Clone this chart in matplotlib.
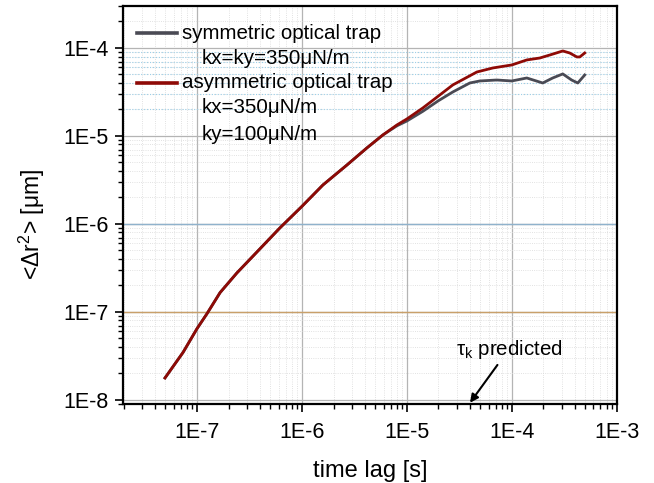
import numpy as np
import matplotlib
matplotlib.use("Agg")
import matplotlib.pyplot as plt
from matplotlib.ticker import LogLocator, FuncFormatter, NullFormatter

plt.rcParams["font.family"] = ["Liberation Sans", "DejaVu Sans"]

# Data (log10 of time lag and of <dr^2>)
log_t_common = [-7.305, -7.133, -7.0, -6.905, -6.78, -6.62, -6.43, -6.21, -6.0,
                -5.8, -5.571, -5.381, -5.229]
log_r_common = [-7.75, -7.46, -7.19, -7.02, -6.78, -6.557, -6.32, -6.045, -5.80,
                -5.557, -5.33, -5.136, -4.989]

log_t_sym = [-5.095, -5.0, -4.848, -4.70, -4.562, -4.4, -4.305, -4.143, -4.0,
             -3.857, -3.705, -3.61, -3.514, -3.43, -3.371, -3.305]
log_r_sym = [-4.885, -4.83, -4.72, -4.60, -4.50, -4.398, -4.375, -4.364, -4.375,
             -4.341, -4.398, -4.341, -4.295, -4.364, -4.398, -4.307]

log_t_asym = [-5.095, -5.0, -4.848, -4.686, -4.562, -4.333, -4.18, -4.0, -3.857,
              -3.733, -3.638, -3.514, -3.448, -3.38, -3.352, -3.305]
log_r_asym = [-4.875, -4.807, -4.682, -4.534, -4.42, -4.273, -4.227, -4.193, -4.136,
              -4.114, -4.08, -4.034, -4.057, -4.102, -4.102, -4.057]

x_ticks = [1e-7, 1e-6, 1e-5, 1e-4, 1e-3]
y_ticks = [1e-8, 1e-7, 1e-6, 1e-5, 1e-4]

tau_k = 4e-5  # predicted corner time

t_sym = 10 ** np.array(log_t_common + log_t_sym)
r_sym = 10 ** np.array(log_r_common + log_r_sym)
t_asym = 10 ** np.array(log_t_common + log_t_asym)
r_asym = 10 ** np.array(log_r_common + log_r_asym)

gray = "#4a4a54"
red = "#8e0a06"

fig = plt.figure(figsize=(6.54, 4.83), dpi=100)
ax = fig.add_axes([0.188, 0.1636, 0.755, 0.824])

ax.set_xscale("log")
ax.set_yscale("log")
ax.set_xlim(1.97e-8, 1e-3)
ax.set_ylim(9e-9, 3e-4)

# grid
ax.set_xticks(x_ticks)
ax.set_yticks(y_ticks)
ax.xaxis.set_minor_locator(LogLocator(base=10, subs=np.arange(2, 10)))
ax.yaxis.set_minor_locator(LogLocator(base=10, subs=np.arange(2, 10)))
ax.xaxis.set_minor_formatter(NullFormatter())
ax.yaxis.set_minor_formatter(NullFormatter())
ax.grid(which="major", color="#b4b4b4", lw=0.9, ls="-")
ax.grid(which="minor", color="#d8d8d8", lw=0.6, ls=":")
ax.set_axisbelow(True)

# the tinted grid lines seen in the original
ax.axhline(1e-6, color="#8fb2cc", lw=1.0, zorder=1)
ax.axhline(1e-7, color="#c9a06a", lw=1.0, zorder=1)
for m in range(2, 10):
    ax.axhline(m * 1e-5, color="#9ccfe8", lw=0.8, ls=":", zorder=1)

ax.plot(t_sym, r_sym, color=gray, lw=2.0, zorder=3)
ax.plot(t_asym, r_asym, color=red, lw=2.0, zorder=4)

fmt = FuncFormatter(lambda v, p: "1E%d" % int(round(np.log10(v))))
ax.xaxis.set_major_formatter(fmt)
ax.yaxis.set_major_formatter(fmt)
ax.tick_params(which="major", direction="out", length=6, width=1.2, labelsize=15.5)
ax.tick_params(which="minor", direction="out", length=3.5, width=1.0)
ax.tick_params(axis="x", pad=7)
ax.tick_params(axis="y", pad=4)
for s in ax.spines.values():
    s.set_linewidth(1.6)

ax.set_xlabel("time lag [s]", fontsize=17, labelpad=12)
ax.set_ylabel("<\u0394r$\\mathregular{^2}$> [\u03bcm]", fontsize=16.5)
ax.yaxis.set_label_coords(-0.154, 0.452)

# legend drawn by hand to keep the parameter lines under each entry
tr = ax.transAxes
ax.plot([0.028, 0.109], [0.932, 0.932], color=gray, lw=2.6, transform=tr)
ax.plot([0.028, 0.109], [0.807, 0.807], color=red, lw=2.6, transform=tr)
kw = dict(transform=tr, fontsize=14.8, va="center", ha="left")
ax.text(0.119, 0.932, "symmetric optical trap", **kw)
ax.text(0.16, 0.869, "kx=ky=350\u03bcN/m", **kw)
ax.text(0.119, 0.807, "asymmetric optical trap", **kw)
ax.text(0.16, 0.744, "kx=350\u03bcN/m", **kw)
ax.text(0.16, 0.676, "ky=100\u03bcN/m", **kw)

ax.text(2.93e-5, 3.7e-8, "\u03c4$\\mathregular{_k}$ predicted", fontsize=14.8,
        ha="left", va="center")
ax.annotate("", xy=(tau_k, 9.3e-9), xytext=(7.3e-5, 2.5e-8),
            arrowprops=dict(arrowstyle="-|>", color="black", lw=1.5,
                            shrinkA=0, shrinkB=0, mutation_scale=12))

fig.savefig("out.png", dpi=100)
